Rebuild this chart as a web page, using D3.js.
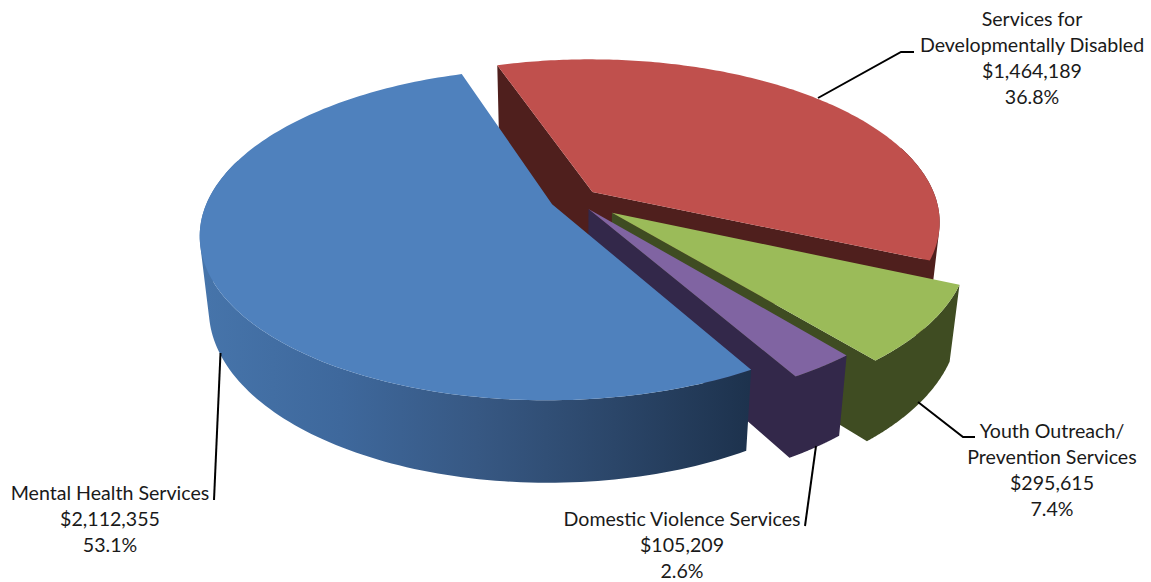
<!DOCTYPE html>
<html><head><meta charset="utf-8">
<script src="https://cdn.jsdelivr.net/npm/d3@7"></script>
<style>html,body{margin:0;padding:0;background:#fff}svg{display:block}text{font-family:Lato,sans-serif;font-size:19.6px;fill:#1a1a1a}</style>
</head><body><div id="c"></div>
<script>
// data
const categories=["Mental Health Services","Services for Developmentally Disabled","Youth Outreach/ Prevention Services","Domestic Violence Services"];
const amounts=[2112355,1464189,295615,105209];
const percents=["53.1%","36.8%","7.4%","2.6%"];
const amountLabels=["$2,112,355","$1,464,189","$295,615","$105,209"];
const explode=[0.071,0.071,0.135,0.071];
const topColors=["#4f81bd","#c0504d","#9bbb59","#8064a2"];
const sideColors=["url(#blueWall)","#4f1f1d","#3f4c22","#33284a"];
const labelLines=[["Mental Health Services"],["Services for","Developmentally Disabled"],["Youth Outreach/","Prevention Services"],["Domestic Violence Services"]];
// layout
const W=1151,H=582,cx=574.5,cy=199.5,A=344,B=159,p=0.18,dw=0.024,depth=74;
const svg=d3.select("#c").append("svg").attr("width",W).attr("height",H);
const grad=svg.append("defs").append("linearGradient").attr("id","blueWall").attr("gradientUnits","userSpaceOnUse")
  .attr("x1",205).attr("x2",750).attr("y1",0).attr("y2",0);
[[0,"#4674aa"],[.25,"#3e689c"],[.5,"#375883"],[.75,"#2b4669"],[1,"#1d324d"]].forEach(s=>grad.append("stop").attr("offset",s[0]).attr("stop-color",s[1]));

const start=-18.5*Math.PI/180;
const pie=d3.pie().sort(null).startAngle(start).endAngle(start+2*Math.PI);
// clockwise from the far edge: red, green, purple, blue; painted in that order
const order=[1,2,3,0];
const arcs=pie(order.map(i=>amounts[i]));
const slices=order.map((i,k)=>({i,a0:arcs[k].startAngle,a1:arcs[k].endAngle}));
function proj(u,v,z){const w=1-p*v+dw*z;return [cx+A*u/w,cy+(B*v+depth*z)/w];}
const line=d3.line();
function drawSlice(s){
  const mid=(s.a0+s.a1)/2,e=explode[s.i];
  const ou=e*Math.sin(mid),ov=-e*Math.cos(mid);
  const rim=(a,z)=>proj(ou+Math.sin(a),ov-Math.cos(a),z);
  const apex=z=>proj(ou,ov,z);
  const g=svg.append("g");
  const rimAngles=d3.range(0,161).map(k=>s.a0+(s.a1-s.a0)*k/160);
  const side=sideColors[s.i];
  // every wall piece goes in one path with the same winding, so they fill as a seamless union
  let wall="";
  const add=pts=>{const q=d3.polygonArea(pts)<0?pts.slice().reverse():pts;wall+=line(q)+"Z";};
  const fStart=[apex(0),rim(s.a0,0),rim(s.a0,1),apex(1)];
  const fEnd=[apex(0),rim(s.a1,0),rim(s.a1,1),apex(1)];
  if(d3.polygonArea(fStart)>0)add(fStart);
  if(d3.polygonArea(fEnd)<0)add(fEnd);
  const near=rimAngles.filter(a=>Math.cos(a)<0.3);
  d3.pairs(near).forEach(([a,b])=>add([rim(a,0),rim(b,0),rim(b,1),rim(a,1)]));
  g.append("path").attr("d",wall).attr("fill",side).attr("fill-rule","nonzero");
  g.append("path").attr("d",line([apex(0),...rimAngles.map(a=>rim(a,0))])+"Z").attr("fill",topColors[s.i]);
}
slices.forEach(drawSlice);
// leaders
const leaders=[[[220.5,353],[214,500]],[[818,98],[901,52],[914,52]],[[918,402],[963,437],[975,437]],[[816,446],[805,526]]];
leaders.forEach(l=>svg.append("path").attr("d",line(l)).attr("fill","none").attr("stroke","#000").attr("stroke-width",2));
// labels
const labelPos=[[110,500],[1032,26],[1052,437.5],[682,526]];
categories.forEach((c,i)=>{
  const lines=[...labelLines[i],amountLabels[i],percents[i]];
  const t=svg.append("text").attr("text-anchor","middle");
  lines.forEach((ln,k)=>t.append("tspan").attr("x",labelPos[i][0]).attr("y",labelPos[i][1]+k*26).text(ln));
});
</script></body></html>
